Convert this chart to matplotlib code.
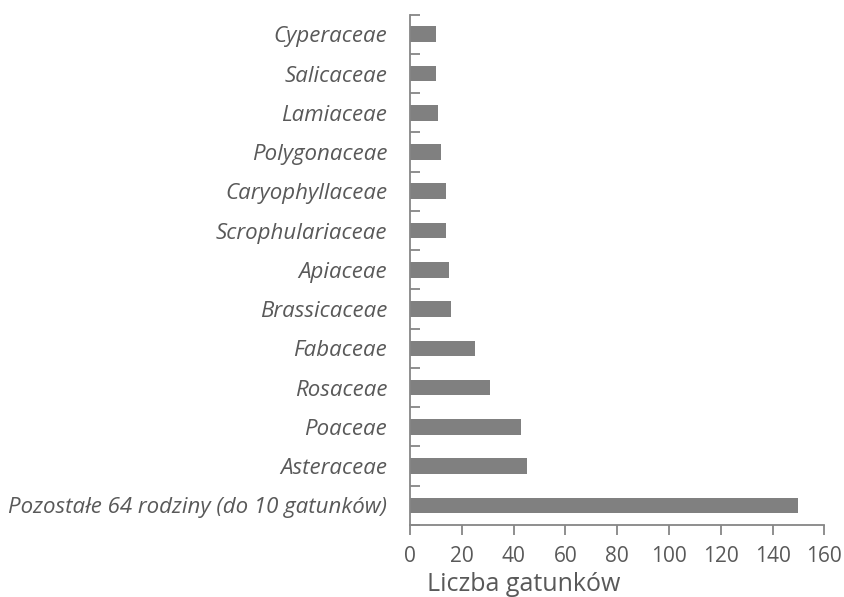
import matplotlib
matplotlib.use("Agg")
import matplotlib.pyplot as plt
import numpy as np

families = [
    "Pozostałe 64 rodziny (do 10 gatunków)",
    "Asteraceae",
    "Poaceae",
    "Rosaceae",
    "Fabaceae",
    "Brassicaceae",
    "Apiaceae",
    "Scrophulariaceae",
    "Caryophyllaceae",
    "Polygonaceae",
    "Lamiaceae",
    "Salicaceae",
    "Cyperaceae",
]
species_counts = [150, 45, 43, 31, 25, 16, 15, 14, 14, 12, 11, 10, 10]
x_ticks = [0, 20, 40, 60, 80, 100, 120, 140, 160]

plt.rcParams["font.family"] = ["Open Sans", "DejaVu Sans"]

fig = plt.figure(figsize=(8.45, 5.97), dpi=100)
ax = fig.add_axes([0.4852, 0.1206, 0.4903, 0.8548])

text_color = "#595959"
axis_color = "#868686"

y = np.arange(len(families))
ax.barh(y, species_counts, height=0.4, color="#808080", edgecolor="none")

ax.set_xlim(0, 160)
ax.set_ylim(-0.5, len(families) - 0.5)
ax.set_xticks(x_ticks)
ax.set_xticklabels([str(t) for t in x_ticks], fontsize=15, color=text_color)

ax.set_yticks(y)
ax.set_yticklabels(families, fontsize=16, style="italic", color=text_color)
ax.tick_params(axis="y", which="major", length=0, pad=16.5)
ax.set_yticks(np.arange(len(families) + 1) - 0.5, minor=True)
ax.tick_params(axis="y", which="minor", direction="in", length=7, width=1.3,
               color=axis_color)
ax.tick_params(axis="x", direction="out", length=7, width=1.3,
               color=axis_color, pad=8)

for side in ("top", "right"):
    ax.spines[side].set_visible(False)
for side in ("left", "bottom"):
    ax.spines[side].set_color(axis_color)
    ax.spines[side].set_linewidth(1.3)

fig.text(524 / 845, 6 / 597, "Liczba gatunków", fontsize=18,
         color=text_color, ha="center", va="baseline")

fig.savefig("out.png", dpi=100)
